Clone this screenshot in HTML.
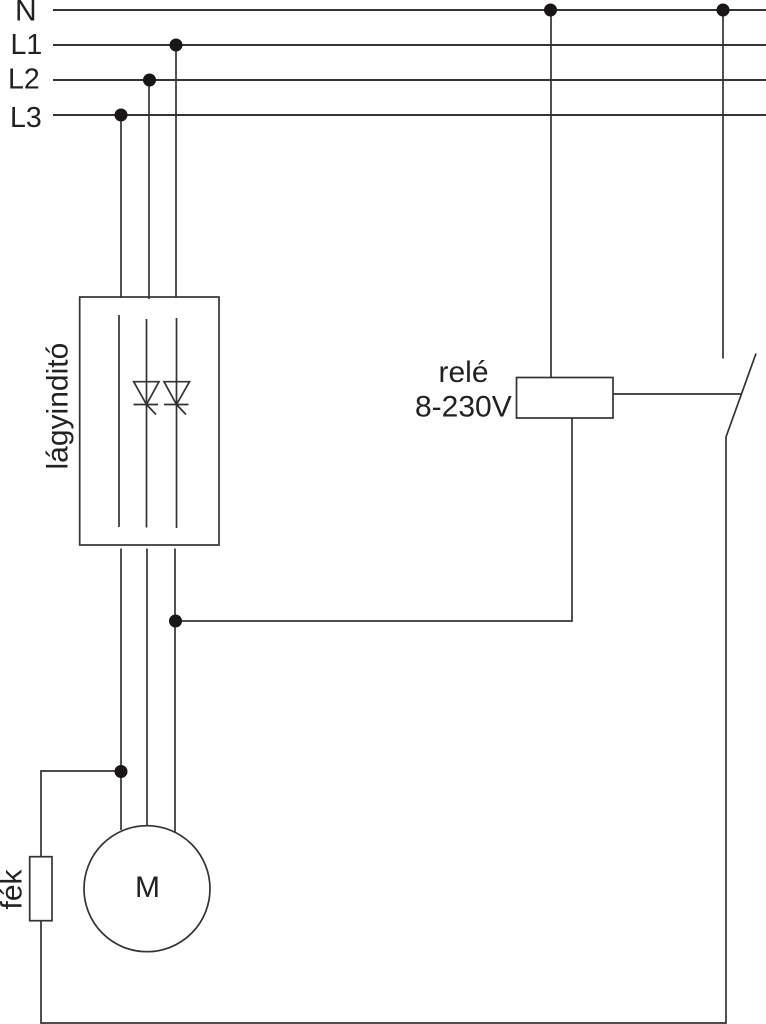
<!DOCTYPE html>
<html><head><meta charset="utf-8"><style>
html,body{margin:0;padding:0;background:#fff;width:766px;height:1024px;overflow:hidden}
svg{display:block}
text{font-family:"Liberation Sans",sans-serif;font-size:30px;fill:#222}
.b{font-size:28.5px}
</style></head><body>
<svg width="766" height="1024" viewBox="0 0 766 1024" xmlns="http://www.w3.org/2000/svg">
<rect width="766" height="1024" fill="#fff"/>
<g fill="none" stroke="#333" stroke-width="1.7">
<path d="M53 10H766M53 45H766M53 80H766M53 115H766" stroke-width="2"/>
<path d="M121 115V298M149 80V299M176 45V298"/>
<rect x="79.7" y="297" width="139.3" height="248"/>
<path d="M119 315V527M146.5 319V527.5M176.5 318V528"/>
<path d="M133.7 381.7H159L146.5 404.5ZM133.5 404.5H158M146.5 404.5L156 414.5"/>
<path d="M164 381.7H189.5L176.5 404.5ZM164 404.5H188.5M176.5 404.5L186 414.5"/>
<path d="M121 548.5V830M147 548.5V826M175 548.5V832"/>
<path d="M175 621H572V418"/>
<rect x="516.5" y="377.5" width="96.5" height="40.5"/>
<path d="M551 10V377.5M723 10V358.5M613 394H741"/>
<path d="M756 353.5L726 437V1023H41V921M41 857V771H121"/>
<circle cx="147" cy="888.7" r="63"/>
<rect x="29.7" y="856.7" width="22.3" height="64"/>
</g>
<g fill="#1a1616">
<circle cx="550.5" cy="10" r="6.5"/>
<circle cx="723" cy="10" r="6.5"/>
<circle cx="176" cy="45" r="6.5"/>
<circle cx="149.5" cy="80" r="6.5"/>
<circle cx="121" cy="115" r="6.5"/>
<circle cx="175.5" cy="621" r="6.5"/>
<circle cx="121" cy="771.5" r="6.5"/>
</g>
<text x="15" y="20.5">N</text>
<text class="b" x="10.5" y="54">L1</text>
<text class="b" x="8" y="88.5">L2</text>
<text class="b" x="10" y="127">L3</text>
<text x="438.5" y="382">relé</text>
<text x="415" y="416.5">8-230V</text>
<text x="135" y="897">M</text>
<text transform="translate(67.5 469.5) rotate(-90)">lágyinditó</text>
<text transform="translate(21.5 909.5) rotate(-90)">fék</text>
</svg>
</body></html>
